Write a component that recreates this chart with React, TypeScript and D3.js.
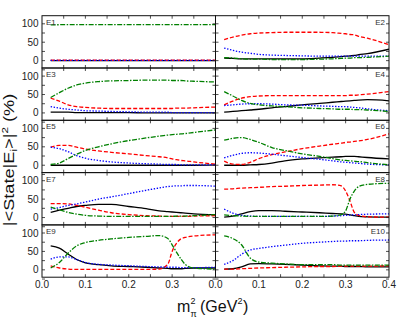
import React from "react";
import * as d3 from "d3";

const XS = [0.02, 0.04, 0.06, 0.08, 0.10, 0.13, 0.16, 0.20, 0.24, 0.27, 0.29, 0.30, 0.31, 0.32, 0.33, 0.35, 0.40];

const E1_black = [0,0,0,0,0,0,0,0,0,0,0,0,0,0,0,0,0];
const E1_red = [1,1,1,1,1,1,1,1,1,1,1,1,1,1,1,1,1];
const E1_blue = [0.5,0.5,0.5,0.5,0.5,0.5,0.5,0.5,0.5,0.5,0.5,0.5,0.5,0.5,0.5,0.5,0.5];
const E1_green = [97,97.5,98,98,98,98,98,98,98,98,98,98,98,98,98,98,98];

const E2_black = [7,6,5,5,5,5,5,5,7,9,11,12,13,14,16,19,31];
const E2_red = [57,64,69,73,75,76,77,77,77,76,74,73,71,70,66,61,43];
const E2_blue = [34,28,23,20,17,15,14,13,12,12,12,12,12,12,12,12,12];
const E2_green = [8,7,5,4,4,3,3,3,4,5,6,7,7,8,8,9,12];

const E3_black = [2,2,2,1,1,1,1,1,0,0,0,0,0,0,0,0,0];
const E3_red = [40,32,22,17,15,13,12,12,12,12,12,12,13,13,13,14,16];
const E3_blue = [17,13,10,8,6,5,4,3,2,2,2,1,1,1,1,1,1];
const E3_green = [42,55,67,76,81,85,87,88,89,89,89,88,88,88,87,86,84];

const E4_black = [2,4,6,8,10,14,17,22,26,29,31,32,33,34,35,36,33];
const E4_red = [22,32,40,44,46,47,47,47,47,47,47,47,48,48,49,51,58];
const E4_blue = [20,22,24,25,25,24,22,21,19,18,17,17,16,15,14,11,6];
const E4_green = [58,46,34,26,22,19,17,14,12,11,10,10,10,9,9,8,4];

const E5_black = [0,0,0,0,0,0,0,0,0,0,0,0,0,0,0,0,1];
const E5_red = [49,54,54,49,44,39,35,31,26,23,20,17,15,13,12,9,3];
const E5_blue = [49,45,37,26,19,13,9,6,4,3,2,2,2,1,1,1,1];
const E5_green = [2,6,18,30,40,50,58,67,74,79,82,83,84,85,86,89,96];

const E6_black = [0,0,0,1,2,6,12,17,20,22,23,24,24,24,23,21,17];
const E6_red = [11,3,2,8,18,29,36,45,52,57,60,62,63,65,66,70,85];
const E6_blue = [20,27,32,34,33,30,26,21,16,12,9,8,7,6,5,3,1];
const E6_green = [68,73,75,70,62,48,40,31,24,18,14,13,12,11,10,7,1];

const E7_black = [14,20,25,30,33,36,36,30,24,18,16,15,14,13,12,10,7];
const E7_red = [38,38,37,33,28,20,13,8,5,4,3,3,3,3,3,4,5];
const E7_blue = [23,27,33,37,42,50,56,65,74,80,84,85,86,86,87,87,85];
const E7_green = [28,21,14,9,6,4,3,3,3,3,3,3,4,4,4,5,8];

const E8_black = [1,4,10,16,19,19,17,15,13,11,10,9,7,5,3,2,1];
const E8_red = [77,78,80,81,82,84,85,87,88,89,86,72,45,14,6,2,1];
const E8_blue = [23,12,6,4,3,3,3,3,3,4,5,6,7,7,8,9,10];
const E8_green = [7,5,4,3,3,3,3,3,3,4,8,18,50,72,84,90,93];

const E9_black = [65,59,43,28,19,14,11,9,7,5,4,3,3,3,4,5,5];
const E9_red = [11,5,2,1,1,1,1,1,1,2,15,50,72,84,88,92,95];
const E9_blue = [29,35,35,28,20,15,13,11,9,8,7,7,7,6,6,6,7];
const E9_green = [5,20,45,65,74,80,84,88,91,93,85,68,48,30,15,5,2];

const E10_black = [2,3,8,16,17,16,15,13,11,10,10,9,9,9,9,8,8];
const E10_red = [2,2,3,4,5,6,7,8,9,9,10,10,10,10,10,10,11];
const E10_blue = [15,25,42,54,58,63,67,72,75,77,78,78,79,79,79,80,81];
const E10_green = [92,85,68,32,21,18,16,14,14,14,13,13,13,13,13,13,13];

const PANEL_NAMES = ["E1","E2","E3","E4","E5","E6","E7","E8","E9","E10"];
const PANEL_DATA = [
  [E1_black, E1_red, E1_blue, E1_green],
  [E2_black, E2_red, E2_blue, E2_green],
  [E3_black, E3_red, E3_blue, E3_green],
  [E4_black, E4_red, E4_blue, E4_green],
  [E5_black, E5_red, E5_blue, E5_green],
  [E6_black, E6_red, E6_blue, E6_green],
  [E7_black, E7_red, E7_blue, E7_green],
  [E8_black, E8_red, E8_blue, E8_green],
  [E9_black, E9_red, E9_blue, E9_green],
  [E10_black, E10_red, E10_blue, E10_green],
];

const Y_TICKS = [0, 50, 100];
const Y_MINOR = [-25, 0, 25, 50, 75, 100];
const X_TICKS = [0, 0.1, 0.2, 0.3, 0.4];
const X_MINOR = [0.05, 0.1, 0.15, 0.2, 0.25, 0.3, 0.35];

const STYLES = [
  { color: "#000000", dash: null },
  { color: "#ff0000", dash: "4,2" },
  { color: "#0000ff", dash: "1.4,1.6" },
  { color: "#008000", dash: "5,1.5,1.5,1.5" },
];

const FONT = "'Liberation Sans', Arial, sans-serif";

const LEFT = 42;
const MID = 215.5;
const RIGHT = 389;
const TOP = 15.7;
const ROW_H = 52.3;
const NROWS = 5;

export default function App() {
  const panels = PANEL_NAMES.map((name, i) => {
    const col = i % 2;
    const row = Math.floor(i / 2);
    const x0 = col === 0 ? LEFT : MID;
    const x1 = col === 0 ? MID : RIGHT;
    const y0 = TOP + row * ROW_H;
    const y1 = y0 + ROW_H;
    const xs = d3.scaleLinear().domain([0, 0.4]).range([x0, x1]);
    const ys = d3.scaleLinear().domain([-20, 122]).range([y1, y0]);
    const line = d3
      .line<number>()
      .x((_, k) => xs(XS[k]))
      .y((v) => ys(v))
      .curve(d3.curveMonotoneX);
    const tl = 3;
    return (
      <g key={name}>
        <defs>
          <clipPath id={`clip${i}`}>
            <rect x={x0} y={y0} width={x1 - x0} height={y1 - y0} />
          </clipPath>
        </defs>
        <g clipPath={`url(#clip${i})`}>
          {PANEL_DATA[i].map((series, s) => (
            <path
              key={s}
              d={line(series) || ""}
              fill="none"
              stroke={STYLES[s].color}
              strokeWidth={1.3}
              strokeDasharray={STYLES[s].dash || undefined}
            />
          ))}
        </g>
        {X_MINOR.map((t) => (
          <g key={`xt${t}`}>
            <line x1={xs(t)} x2={xs(t)} y1={y0} y2={y0 + tl} stroke="#222" strokeWidth={0.8} />
            <line x1={xs(t)} x2={xs(t)} y1={y1} y2={y1 - tl} stroke="#222" strokeWidth={0.8} />
          </g>
        ))}
        {Y_MINOR.map((t) => (
          <g key={`yt${t}`}>
            <line x1={x0} x2={x0 + tl} y1={ys(t)} y2={ys(t)} stroke="#222" strokeWidth={0.8} />
            <line x1={x1} x2={x1 - tl} y1={ys(t)} y2={ys(t)} stroke="#222" strokeWidth={0.8} />
          </g>
        ))}
        <rect x={x0} y={y0} width={x1 - x0} height={y1 - y0} fill="none" stroke="#111" strokeWidth={1} />
        {col === 0 &&
          Y_TICKS.map((t) => (
            <text
              key={`yl${t}`}
              x={x0 - 3.5}
              y={ys(t)}
              dy="0.35em"
              textAnchor="end"
              fontSize={10}
              fontFamily={FONT}
              fill="#222"
            >
              {t}
            </text>
          ))}
        <text
          x={col === 0 ? x0 + 4 : x1 - 4}
          y={y0 + 9}
          textAnchor={col === 0 ? "start" : "end"}
          fontSize={8}
          fontFamily={FONT}
          fill="#333"
        >
          {name}
        </text>
        {row === NROWS - 1 &&
          X_TICKS.filter((t) => (col === 0 ? t < 0.4 : true)).map((t) => (
            <text
              key={`xl${t}`}
              x={xs(t)}
              y={287.5}
              textAnchor="middle"
              fontSize={10}
              fontFamily={FONT}
              fill="#222"
            >
              {t.toFixed(1)}
            </text>
          ))}
      </g>
    );
  });

  return (
    <svg
      width={415}
      height={319}
      style={{ position: "absolute", left: 0, top: 0, background: "#fff" }}
    >
      <rect x={0} y={0} width={415} height={319} fill="#fff" />
      {panels}
      <g transform="translate(13.5,160) rotate(-90) scale(1.3,1)">
        <text textAnchor="middle" fontSize={14} fontFamily={FONT} fill="#111">
          {"|<State|E"}
          <tspan fontSize={9} dy={3}>i</tspan>
          <tspan dy={-3}>{">|"}</tspan>
          <tspan fontSize={9} dy={-6}>2</tspan>
          <tspan dy={6}>{" (%)"}</tspan>
        </text>
      </g>
      <g fontFamily={FONT} fill="#111">
        <text x={177} y={312} fontSize={16}>m</text>
        <text x={190.5} y={316.5} fontSize={9}>π</text>
        <text x={190.5} y={304} fontSize={9}>2</text>
        <text x={200} y={312} fontSize={16}>(GeV</text>
        <text x={237.5} y={304} fontSize={9}>2</text>
        <text x={243} y={312} fontSize={16}>)</text>
      </g>
    </svg>
  );
}
